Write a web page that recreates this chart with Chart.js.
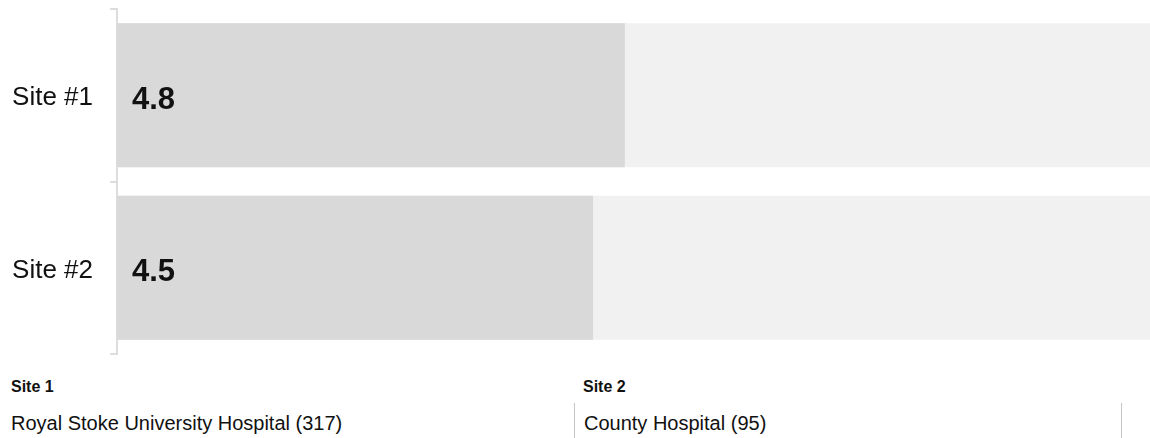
<!DOCTYPE html>
<html>
<head>
<meta charset="utf-8">
<script src="https://cdn.jsdelivr.net/npm/chart.js@4"></script>
<style>
  html, body { margin: 0; padding: 0; background: #fff; overflow: hidden; width: 1150px; height: 438px; }
  body { font-family: "Liberation Sans", Arial, sans-serif; color: #111; position: relative; }
  #wrap { position: absolute; left: 0; top: 0; width: 1150px; height: 362px; overflow: hidden; }
  canvas { display: block; }
  .head { position: absolute; top: 378px; font-weight: bold; font-size: 16px; line-height: 18px; }
  .site { position: absolute; top: 409px; font-size: 20px; height: 29px; line-height: 29px; }
  .sep { position: absolute; top: 403px; width: 1px; height: 35px; background: #c4c4c4; }
</style>
</head>
<body>
<div id="wrap"><canvas id="c" width="1175" height="362"></canvas></div>
<div class="head" style="left:11px" id="h1"></div>
<div class="head" style="left:583px" id="h2"></div>
<div class="sep" style="left:574px"></div>
<div class="sep" style="left:1121px"></div>
<div class="site" style="left:11px" id="s1"></div>
<div class="site" style="left:584px" id="s2"></div>
<script>
const categories = ["Site #1", "Site #2"];
const scores = [4.8, 4.5];
const maxScore = [10, 10];
const siteHeadings = ["Site 1", "Site 2"];
const siteNames = ["Royal Stoke University Hospital (317)", "County Hospital (95)"];

document.getElementById('h1').textContent = siteHeadings[0];
document.getElementById('h2').textContent = siteHeadings[1];
document.getElementById('s1').textContent = siteNames[0];
document.getElementById('s2').textContent = siteNames[1];

const valueLabels = {
  id: 'valueLabels',
  afterDatasetsDraw(chart) {
    const ctx = chart.ctx;
    const meta = chart.getDatasetMeta(0);
    ctx.save();
    ctx.font = 'bold 31px "Liberation Sans", Arial, sans-serif';
    ctx.fillStyle = '#111';
    ctx.textAlign = 'left';
    ctx.textBaseline = 'middle';
    meta.data.forEach((bar, i) => {
      ctx.fillText(scores[i].toFixed(1), bar.base + 15, bar.y + 5);
    });
    ctx.restore();
  }
};

new Chart(document.getElementById('c'), {
  type: 'bar',
  data: {
    labels: categories,
    datasets: [
      { data: scores, backgroundColor: '#d9d9d9', borderWidth: 0, grouped: false, barPercentage: 0.835, categoryPercentage: 1 },
      { data: maxScore, backgroundColor: '#f1f1f1', borderWidth: 0, grouped: false, barPercentage: 0.835, categoryPercentage: 1 }
    ]
  },
  options: {
    indexAxis: 'y',
    responsive: false,
    animation: false,
    maintainAspectRatio: false,
    layout: { padding: { top: 9, bottom: 8, left: 0, right: 0 } },
    plugins: { legend: { display: false }, tooltip: { enabled: false } },
    scales: {
      x: { display: false, min: 0, max: 10 },
      y: {
        afterFit(s) { s.width = 117; s.paddingTop = 0; s.paddingBottom = 0; },
        grid: { offset: true, drawOnChartArea: false, drawTicks: true, tickLength: 7, color: '#dddddd', lineWidth: 2 },
        border: { color: '#dddddd', width: 2 },
        ticks: { padding: 17, labelOffset: 3, color: '#111', font: { family: '"Liberation Sans", Arial, sans-serif', size: 26 } }
      }
    }
  },
  plugins: [valueLabels]
});
</script>
</body>
</html>
